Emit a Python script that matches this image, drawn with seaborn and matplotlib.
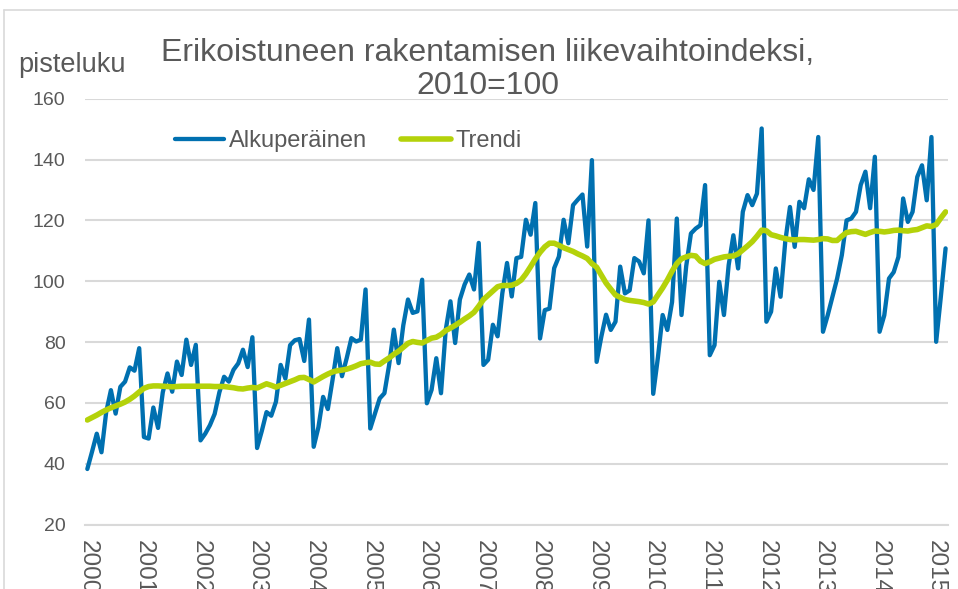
import numpy as np
import pandas as pd
import matplotlib.pyplot as plt
import seaborn as sns
from matplotlib.lines import Line2D

# Kuukausiarvot 2000M01 - 2015M03
vuodet = [str(v) for v in range(2000, 2016)]

alkuperainen = [
    38.3, 44.0, 49.9, 43.8, 57.0, 64.2, 56.5, 65.3, 67.0, 71.7, 70.6, 78.0,      # 2000
    48.8, 48.3, 58.5, 51.8, 63.5, 69.7, 63.7, 73.6, 69.2, 80.8, 72.5, 79.1,      # 2001
    47.7, 49.9, 52.7, 56.4, 63.5, 68.6, 67.0, 70.9, 73.0, 77.5, 71.8, 81.6,      # 2002
    45.2, 50.8, 57.0, 55.8, 60.4, 72.5, 68.0, 79.0, 80.6, 81.0, 73.8, 87.4,      # 2003
    45.6, 52.0, 62.0, 58.0, 67.6, 78.0, 68.8, 74.7, 81.3, 80.2, 80.8, 97.3,      # 2004
    51.6, 56.6, 61.5, 63.2, 72.5, 84.1, 73.1, 85.5, 94.0, 89.6, 90.1, 100.5,     # 2005
    59.9, 64.3, 74.7, 63.2, 84.0, 93.4, 79.7, 94.0, 98.9, 102.2, 97.3, 112.6,    # 2006
    72.5, 74.2, 85.7, 81.9, 96.0, 106.0, 95.0, 107.6, 108.0, 120.2, 115.3, 125.7,  # 2007
    81.2, 90.5, 91.0, 104.3, 108.1, 120.2, 112.5, 125.0, 126.8, 128.5, 111.4, 139.8,  # 2008
    73.5, 81.8, 89.0, 84.0, 86.7, 104.8, 96.0, 97.0, 107.6, 106.5, 102.6, 120.0,   # 2009
    63.0, 75.0, 88.9, 84.0, 93.2, 120.6, 88.9, 105.0, 115.7, 117.3, 118.4, 131.6,  # 2010
    75.7, 79.0, 99.8, 88.9, 105.3, 115.1, 104.2, 122.8, 128.3, 125.0, 128.8, 150.2,  # 2011
    86.7, 90.0, 104.2, 94.9, 113.0, 124.4, 111.3, 126.1, 124.0, 133.5, 130.0, 147.4,  # 2012
    83.4, 88.8, 94.9, 100.9, 108.6, 120.0, 120.6, 122.8, 131.6, 136.0, 124.0, 140.9,  # 2013
    83.4, 88.8, 100.9, 103.0, 108.0, 127.2, 119.5, 122.8, 134.3, 138.1, 126.6, 147.4,  # 2014
    80.1, 95.0, 110.8,                                                            # 2015
]

trendi = [
    54.4, 55.2, 56.0, 56.9, 57.7, 58.4, 59.0, 59.6, 60.3, 61.2, 62.3, 63.6,
    64.8, 65.4, 65.6, 65.6, 65.5, 65.4, 65.3, 65.4, 65.5, 65.5, 65.5, 65.5,
    65.5, 65.5, 65.5, 65.4, 65.4, 65.4, 65.2, 65.0, 64.7, 64.6, 64.9, 65.1,
    64.9, 65.6, 66.3, 65.8, 65.2, 65.8, 66.4, 67.0, 67.6, 68.3, 68.4, 67.7,
    66.9, 67.8, 68.7, 69.5, 70.2, 70.6, 70.8, 71.1, 71.6, 72.2, 72.9, 73.2,
    73.4, 72.8, 72.7, 73.8, 74.8, 76.0, 77.0, 78.3, 79.6, 80.2, 79.9, 79.7,
    80.5, 81.3, 81.6, 82.5, 83.8, 84.6, 85.5, 86.5, 87.6, 88.6, 89.8, 91.8,
    94.0, 95.4, 96.8, 98.2, 98.6, 98.6, 98.7, 99.3, 100.4, 102.4, 104.8, 107.3,
    109.5, 111.3, 112.5, 112.5, 111.8, 111.0, 110.4, 109.8, 109.0, 108.3, 107.5, 105.8,
    104.6, 102.0, 99.4, 97.4, 95.5, 94.7, 94.0, 93.7, 93.5, 93.3, 93.0, 92.5,
    93.2, 95.5, 97.8, 100.4, 103.3, 105.8, 107.4, 108.0, 108.5, 108.3, 106.6, 105.8,
    106.4, 107.2, 107.6, 108.0, 108.2, 108.3, 109.0, 110.3, 111.6, 113.0, 114.8, 116.8,
    116.6, 115.3, 114.9, 114.4, 114.0, 113.7, 113.6, 113.7, 113.7, 113.6, 113.5, 113.7,
    114.0, 113.9, 113.4, 113.4, 114.8, 116.0, 116.3, 116.4, 115.9, 115.4, 116.0, 116.5,
    116.4, 116.2, 116.4, 116.7, 116.8, 116.6, 116.5, 116.8, 117.0, 117.6, 118.2, 118.0,
    118.6, 120.8, 122.8,
]

sininen = '#0070B0'
vihrea = '#B4D20A'
harmaa = '#595959'

df = pd.DataFrame({'kk': np.arange(len(alkuperainen)),
                   'Alkuperäinen': alkuperainen,
                   'Trendi': trendi})

sns.set_theme(style='white')
plt.rcParams['font.family'] = ['Liberation Sans', 'DejaVu Sans']

fig = plt.figure(figsize=(9.58, 5.89), dpi=100)
ax = fig.add_axes([0.0887, 0.1092, 0.9008, 0.7233])

sns.lineplot(data=df, x='kk', y='Alkuperäinen', color=sininen, lw=3.1, ax=ax)
sns.lineplot(data=df, x='kk', y='Trendi', color=vihrea, lw=4.0, ax=ax)

ax.set_xlim(-0.5, len(alkuperainen) - 0.5)
ax.set_ylim(20, 160)
ax.set_yticks(range(20, 161, 20))
ax.set_xticks(range(0, len(alkuperainen), 12))
# vuosiluvut leikkautuvat alareunassa kuten alkuperäisessä kuvassa
ax.set_xticklabels(vuodet, rotation=-90, va='top', ha='center')
ax.set_xlabel('')
ax.set_ylabel('')
ax.tick_params(axis='y', length=0, pad=14, labelsize=14, labelcolor=harmaa)
ax.tick_params(axis='x', length=0, pad=11, labelsize=17.5, labelcolor=harmaa)
ax.yaxis.grid(True, color='#D9D9D9', lw=1.5)
ax.xaxis.grid(False)
for s in ['top', 'left', 'right']:
    ax.spines[s].set_visible(False)
ax.spines['bottom'].set_color('#D9D9D9')
ax.spines['bottom'].set_linewidth(1.5)

kahvat = [Line2D([], [], color=sininen, lw=3.1), Line2D([], [], color=vihrea, lw=4.0)]
ax.legend(kahvat, ['Alkuperäinen', 'Trendi'], ncol=2, frameon=False, loc='center left',
          bbox_to_anchor=(0.104, 0.9), borderpad=0, borderaxespad=0, handlelength=2.1,
          handletextpad=0.2, columnspacing=1.45, fontsize=17, labelcolor=harmaa)

fig.text(0.509, 0.882, 'Erikoistuneen rakentamisen liikevaihtoindeksi,\n2010=100',
         ha='center', va='center', fontsize=23, color=harmaa, linespacing=1.17)
fig.text(0.019, 0.89, 'pisteluku', ha='left', va='center', fontsize=19.5, color=harmaa)

# kaavion reunaviiva (ylä ja vasen)
fig.add_artist(Line2D([0.004, 1.0], [0.983, 0.983], color='#D9D9D9', lw=1.2, transform=fig.transFigure))
fig.add_artist(Line2D([0.004, 0.004], [0.0, 0.983], color='#D9D9D9', lw=1.2, transform=fig.transFigure))

fig.savefig('out.png', dpi=100)
